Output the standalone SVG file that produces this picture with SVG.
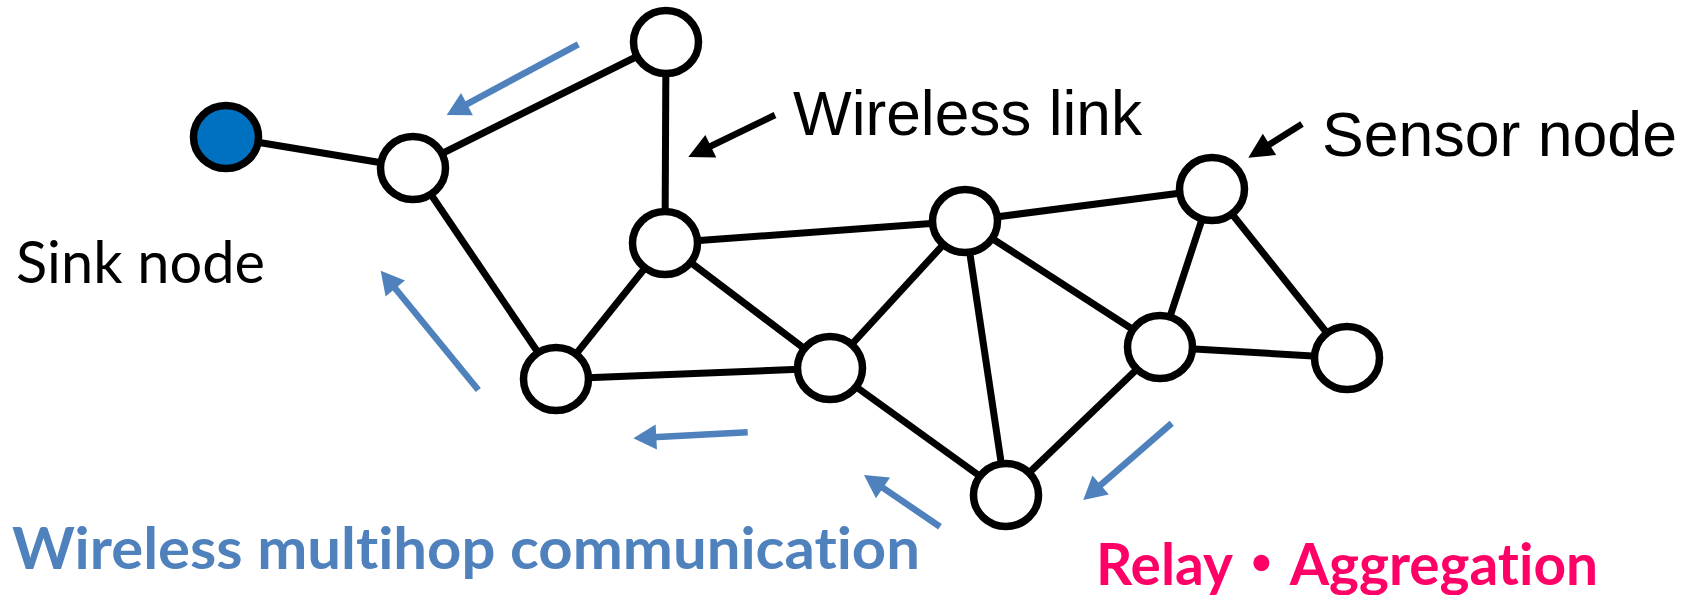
<svg xmlns="http://www.w3.org/2000/svg" width="1693" height="595" viewBox="0 0 1693 595">
<defs>
<style>
.edge{stroke:#000;stroke-width:7;fill:none}
.node{fill:#fff;stroke:#000;stroke-width:7.5}
.sink{fill:#0070C0;stroke:#000;stroke-width:7.5}
.flow{stroke:#4F81BD;stroke-width:6.5;fill:none;marker-end:url(#headBlue)}
.ptr{stroke:#000;stroke-width:6.5;fill:none;marker-end:url(#headBlack)}
.lbl{font-family:"Liberation Sans",Arial,sans-serif;font-size:63px;fill:#000}
.lbl2{font-family:Lato,"Open Sans",sans-serif;font-size:58px;fill:#000}
.blue{font-family:Lato,"Open Sans",sans-serif;font-weight:700;font-size:57px;fill:#4F81BD;font-variant-ligatures:none}
.red{font-family:Lato,"Open Sans","Noto Sans CJK JP",sans-serif;font-weight:700;font-size:58px;fill:#FF0066;font-variant-ligatures:none}
.dot{font-family:"Noto Sans CJK JP",sans-serif;font-weight:900}
</style>
<marker id="headBlue" markerUnits="userSpaceOnUse" markerWidth="23" markerHeight="25" refX="8" refY="12.5" orient="auto" overflow="visible">
<path d="M0,0 L23,12.5 L0,25 z" fill="#4F81BD"/>
</marker>
<marker id="headBlack" markerUnits="userSpaceOnUse" markerWidth="25" markerHeight="25" refX="10" refY="12.5" orient="auto" overflow="visible">
<path d="M0,0 L25,12.5 L0,25 z" fill="#000"/>
</marker>
</defs>
<rect width="1693" height="595" fill="#fff"/>
<g id="connectors">
<line class="edge" x1="226" y1="137" x2="413" y2="168"/>
<line class="edge" x1="413" y1="168" x2="666" y2="42"/>
<line class="edge" x1="666" y1="42" x2="665" y2="243"/>
<line class="edge" x1="413" y1="168" x2="556" y2="379"/>
<line class="edge" x1="665" y1="243" x2="556" y2="379"/>
<line class="edge" x1="665" y1="243" x2="965" y2="221"/>
<line class="edge" x1="665" y1="243" x2="830" y2="368"/>
<line class="edge" x1="556" y1="379" x2="830" y2="368"/>
<line class="edge" x1="830" y1="368" x2="965" y2="221"/>
<line class="edge" x1="830" y1="368" x2="1006" y2="495"/>
<line class="edge" x1="965" y1="221" x2="1212" y2="189"/>
<line class="edge" x1="965" y1="221" x2="1160" y2="347"/>
<line class="edge" x1="965" y1="221" x2="1006" y2="495"/>
<line class="edge" x1="1212" y1="189" x2="1160" y2="347"/>
<line class="edge" x1="1212" y1="189" x2="1347" y2="358"/>
<line class="edge" x1="1160" y1="347" x2="1347" y2="358"/>
<line class="edge" x1="1160" y1="347" x2="1006" y2="495"/>
</g>
<g id="flow-arrows">
<line class="flow" x1="578.3" y1="44.3" x2="459.9" y2="107.9"/>
<line class="flow" x1="478.3" y1="390" x2="390.2" y2="282.3"/>
<line class="flow" x1="747.7" y1="432.3" x2="648.3" y2="437.5"/>
<line class="flow" x1="940" y1="526.7" x2="876.4" y2="483.4"/>
<line class="flow" x1="1171.7" y1="423.3" x2="1094.6" y2="490.2"/>
</g>
<g id="pointer-arrows">
<line class="ptr" x1="775" y1="115" x2="701.8" y2="150.5"/>
<line class="ptr" x1="1302" y1="124" x2="1261" y2="149.7"/>
</g>
<g id="sink"><ellipse class="sink" cx="226" cy="137" rx="32.5" ry="31.5"/></g>
<g id="n1"><ellipse class="node" cx="413" cy="168" rx="32.5" ry="31.5"/></g>
<g id="n2"><ellipse class="node" cx="666" cy="42" rx="32.5" ry="31.5"/></g>
<g id="n3"><ellipse class="node" cx="665" cy="243" rx="32.5" ry="31.5"/></g>
<g id="n4"><ellipse class="node" cx="556" cy="379" rx="32.5" ry="31.5"/></g>
<g id="n5"><ellipse class="node" cx="830" cy="368" rx="32.5" ry="31.5"/></g>
<g id="n6"><ellipse class="node" cx="965" cy="221" rx="32.5" ry="31.5"/></g>
<g id="n7"><ellipse class="node" cx="1212" cy="189" rx="32.5" ry="31.5"/></g>
<g id="n8"><ellipse class="node" cx="1160" cy="347" rx="32.5" ry="31.5"/></g>
<g id="n9"><ellipse class="node" cx="1347" cy="358" rx="32.5" ry="31.5"/></g>
<g id="n10"><ellipse class="node" cx="1006" cy="495" rx="32.5" ry="31.5"/></g>
<g id="labels">
<text class="lbl" x="793" y="135" textLength="349" lengthAdjust="spacingAndGlyphs">Wireless link</text>
<text class="lbl" x="1322" y="156" textLength="355" lengthAdjust="spacingAndGlyphs">Sensor node</text>
<text class="lbl2" x="16" y="283" textLength="249" lengthAdjust="spacingAndGlyphs">Sink node</text>
<text class="blue" x="12" y="569" textLength="908" lengthAdjust="spacingAndGlyphs">Wireless multihop communication</text>
<text class="red" x="1096" y="585" textLength="502" lengthAdjust="spacingAndGlyphs">Relay<tspan class="dot">・</tspan>Aggregation</text>
</g>
</svg>
